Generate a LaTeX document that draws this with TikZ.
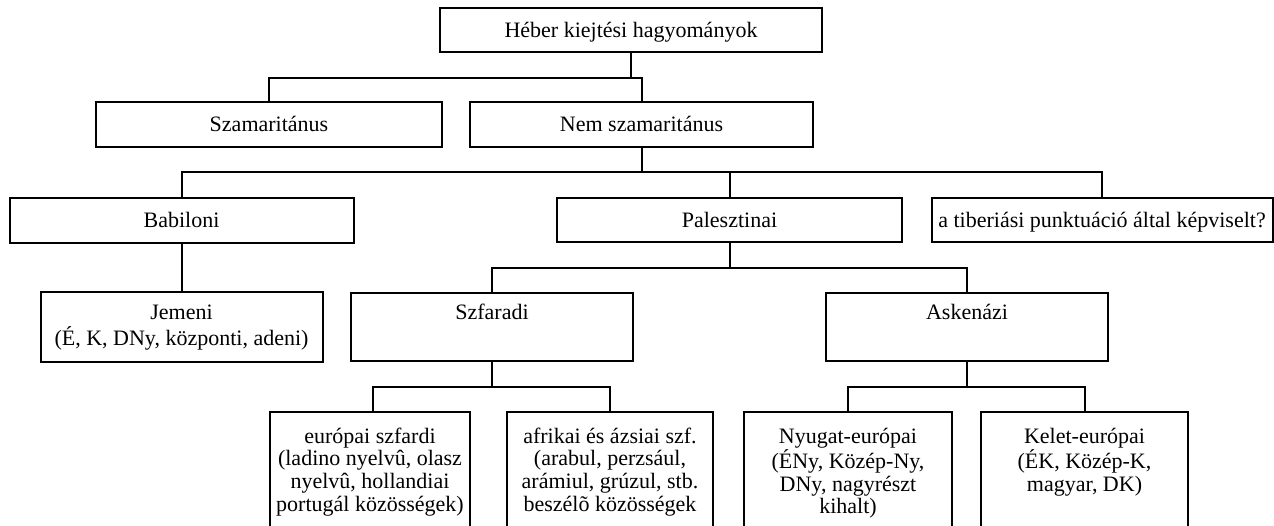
\documentclass[tikz,border=0pt]{standalone}
\usepackage{fontspec}
\setmainfont{Liberation Serif}
\begin{document}
\begin{tikzpicture}[x=1pt,y=-1pt,
  every node/.style={font=\fontsize{22pt}{23pt}\selectfont},
  box/.style={draw, line width=2pt, inner sep=0pt, outer sep=0pt},
  sbox/.style={box, text height=14.5pt, text depth=0pt},
  conn/.style={line width=2pt}]
\useasboundingbox (0,0) rectangle (1274,526);
\clip (0,0) rectangle (1274,526);

% level 0-2 single-line boxes
\node[sbox, minimum width=382pt, minimum height=44pt] (top) at (631,30) {Héber kiejtési hagyományok};
\node[sbox, minimum width=346pt, minimum height=45pt] (szam) at (269,124.5) {Szamaritánus};
\node[sbox, minimum width=343pt, minimum height=45pt] (nem) at (641.5,124.5) {Nem szamaritánus};
\node[sbox, minimum width=344pt, minimum height=45pt] (bab) at (181.5,220.5) {Babiloni};
\node[sbox, minimum width=345pt, minimum height=44pt] (pal) at (729.5,220) {Palesztinai};
\node[sbox, minimum width=341pt, minimum height=44pt] (tib) at (1102,220) {a tiberiási punktuáció által képviselt?};

% level 3
\node[box, anchor=north] (jem) at (181.5,292) {\parbox[c][70pt][t]{282pt}{\centering\fontsize{22pt}{26pt}\selectfont
  \rule[-7pt]{0pt}{35pt}Jemeni\\
  \rule[-7pt]{0pt}{26pt}(É, K, DNy, központi, adeni)}};
\node[box, anchor=north] (szf) at (492,293) {\parbox[c][68pt][t]{282pt}{\centering\fontsize{22pt}{26pt}\selectfont
  \rule[-7pt]{0pt}{34pt}Szfaradi}};
\node[box, anchor=north] (ask) at (967,293) {\parbox[c][68pt][t]{282pt}{\centering\fontsize{22pt}{26pt}\selectfont
  \rule[-7pt]{0pt}{34pt}Askenázi}};

% level 4
\node[box, anchor=north] (eu) at (370,412) {\parbox[c][128pt][t]{200pt}{\centering\fontsize{22pt}{22.7pt}\selectfont
  \rule[-5.5pt]{0pt}{36.5pt}európai szfardi\\
  \rule[-5.5pt]{0pt}{22.7pt}(ladino nyelvû, olasz\\
  \rule[-5.5pt]{0pt}{22.7pt}nyelvû, hollandiai\\
  \rule[-5.5pt]{0pt}{22.7pt}portugál közösségek)}};
\node[box, anchor=north] (afr) at (610,412) {\parbox[c][128pt][t]{206pt}{\centering\fontsize{22pt}{22.7pt}\selectfont
  \rule[-5.5pt]{0pt}{36.5pt}afrikai és ázsiai szf.\\
  \rule[-5.5pt]{0pt}{22.7pt}(arabul, perzsául,\\
  \rule[-5.5pt]{0pt}{22.7pt}arámiul, grúzul, stb.\\
  \rule[-5.5pt]{0pt}{22.7pt}beszélõ közösségek}};
\node[box, anchor=north] (ny) at (848,412) {\parbox[c][128pt][t]{208pt}{\centering\fontsize{22pt}{22.7pt}\selectfont
  \rule[-5.5pt]{0pt}{36.5pt}Nyugat-európai\\
  \rule[-5.5pt]{0pt}{22.7pt}(ÉNy, Közép-Ny,\\
  \rule[-5.5pt]{0pt}{22.7pt}DNy, nagyrészt\\
  \rule[-5.5pt]{0pt}{22.7pt}kihalt)}};
\node[box, anchor=north] (kel) at (1084.5,412) {\parbox[c][128pt][t]{207pt}{\centering\fontsize{22pt}{22.7pt}\selectfont
  \rule[-5.5pt]{0pt}{36.5pt}Kelet-európai\\
  \rule[-5.5pt]{0pt}{22.7pt}(ÉK, Közép-K,\\
  \rule[-5.5pt]{0pt}{22.7pt}magyar, DK)}};

% connectors
\coordinate (r1) at (0,78);
\coordinate (r2) at (0,172);
\coordinate (r3) at (0,268);
\coordinate (r4) at (0,387);

\draw[conn] (top.south) -- (top.south |- r1);
\draw[conn] (szam.north) -- (szam.north |- r1) -- (nem.north |- r1) -- (nem.north);

\draw[conn] (nem.south) -- (nem.south |- r2);
\draw[conn] (bab.north) -- (bab.north |- r2) -- (tib.north |- r2) -- (tib.north);
\draw[conn] (pal.north) -- (pal.north |- r2);

\draw[conn] (bab.south) -- (jem.north);

\draw[conn] (pal.south) -- (pal.south |- r3);
\draw[conn] (szf.north) -- (szf.north |- r3) -- (ask.north |- r3) -- (ask.north);

\draw[conn] (szf.south) -- (szf.south |- r4);
\draw[conn] ([xshift=3pt]eu.north) -- ([xshift=3pt]eu.north |- r4) -- (afr.north |- r4) -- (afr.north);
\draw[conn] (ask.south) -- (ask.south |- r4);
\draw[conn] (ny.north) -- (ny.north |- r4) -- (kel.north |- r4) -- (kel.north);
\end{tikzpicture}
\end{document}
